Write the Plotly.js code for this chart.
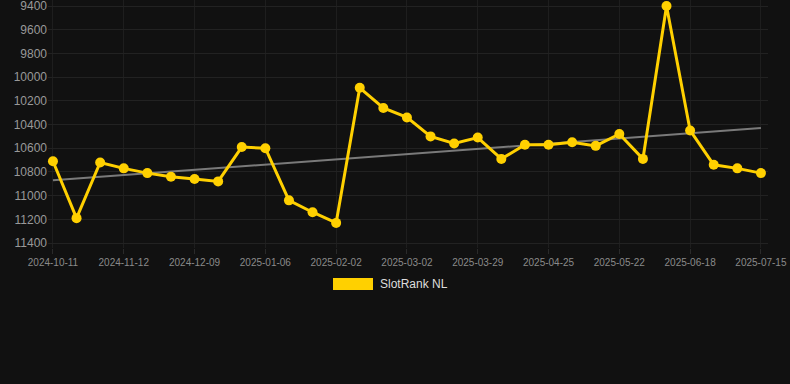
<!DOCTYPE html>
<html>
<head>
<meta charset="utf-8">
<script src="https://cdn.plot.ly/plotly-3.0.1.min.js"></script>
<style>
html,body{margin:0;padding:0;background:#111111;}
#chart{width:790px;height:384px;}
</style>
</head>
<body>
<div id="chart"></div>
<script>
var dates = ["2024-10-11","2024-10-22","2024-11-01","2024-11-12","2024-11-21","2024-11-30","2024-12-09","2024-12-18","2024-12-27","2025-01-06","2025-01-15","2025-01-24","2025-02-02","2025-02-11","2025-02-20","2025-03-02","2025-03-11","2025-03-20","2025-03-29","2025-04-07","2025-04-16","2025-04-25","2025-05-04","2025-05-13","2025-05-22","2025-05-31","2025-06-09","2025-06-18","2025-06-27","2025-07-06","2025-07-15"];
var rankNL = [10710,11190,10720,10770,10810,10840,10860,10880,10590,10600,11040,11140,11230,10090,10260,10340,10500,10560,10510,10690,10570,10570,10550,10580,10480,10690,9400,10450,10740,10770,10810];
var tickLabels = ["2024-10-11","2024-11-12","2024-12-09","2025-01-06","2025-02-02","2025-03-02","2025-03-29","2025-04-25","2025-05-22","2025-06-18","2025-07-15"];
var yTicks = [9400,9600,9800,10000,10200,10400,10600,10800,11000,11200,11400];
var trendX = [dates[0], dates[dates.length-1]];
var trendY = [10870, 10430];
var seriesName = "SlotRank NL";

var traces = [
  {x: trendX, y: trendY, type: "scatter", mode: "lines", line: {color: "#7a7a7a", width: 2}, hoverinfo: "skip", showlegend: false},
  {x: dates, y: rankNL, type: "scatter", mode: "lines+markers", name: seriesName,
   line: {color: "#FFD000", width: 3}, marker: {color: "#FFD000", size: 10}, showlegend: false, cliponaxis: false}
];

var layout = {
  width: 790, height: 384,
  paper_bgcolor: "#111111", plot_bgcolor: "#111111",
  margin: {l: 48, r: 22, t: 0, b: 136},
  font: {family: "Liberation Sans, Arial, sans-serif", color: "#888"},
  xaxis: {type: "category", categoryorder: "array", categoryarray: dates,
    range: [-0.21, 30.3], tickvals: tickLabels, ticktext: tickLabels,
    tickfont: {size: 10, color: "#8a8a8a"}, showgrid: true, gridcolor: "#1e1e1e",
    ticks: "outside", ticklen: 5, tickcolor: "#2a2a2a", zeroline: false, showline: false, fixedrange: true},
  yaxis: {range: [11442, 9349], tickvals: yTicks, ticktext: yTicks.map(String),
    tickfont: {size: 12, color: "#999"}, showgrid: true, gridcolor: "#222",
    ticklabeloverflow: "allow",
    zeroline: false, showline: false, ticks: "", fixedrange: true},
  showlegend: false,
  shapes: [{type: "rect", xref: "paper", yref: "paper", x0: (333-48)/720, x1: (373-48)/720,
    y0: 1-290/248, y1: 1-278/248, fillcolor: "#FFD000", line: {width: 0}}],
  annotations: [{xref: "paper", yref: "paper", x: (378-48)/720, y: 1-284/248, xanchor: "left", yanchor: "middle",
    text: seriesName, showarrow: false, font: {size: 12, color: "#dddddd"}}]
};
Plotly.newPlot("chart", traces, layout, {displayModeBar: false, staticPlot: true});
</script>
</body>
</html>
